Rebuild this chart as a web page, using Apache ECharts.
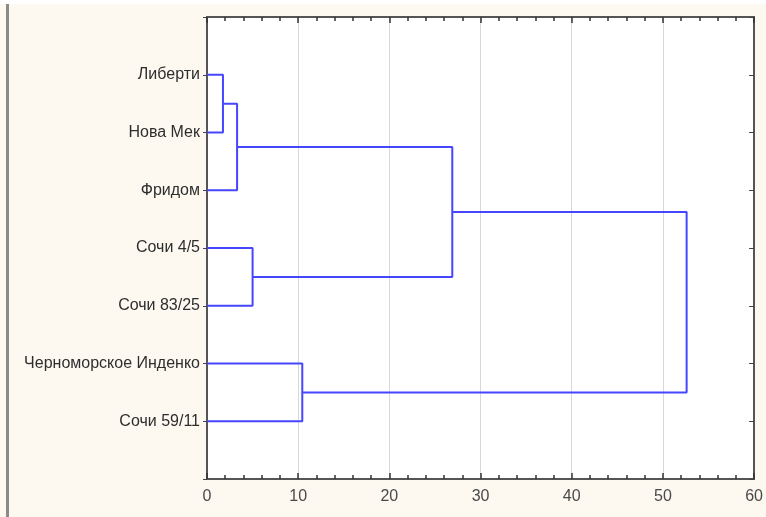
<!DOCTYPE html>
<html><head><meta charset="utf-8">
<script src="https://cdn.jsdelivr.net/npm/echarts@6/dist/echarts.min.js"></script>
<style>html,body{margin:0;padding:0;background:#fff}#c{width:766px;height:517px}</style>
</head><body><div id="c"></div>
<script>
// Leaves (top to bottom)
const leaves = ['Либерти','Нова Мек','Фридом','Сочи 4/5','Сочи 83/25','Черноморское Инденко','Сочи 59/11'];
// Merges: [childA, childB, linkage distance]; node ids >= leaves.length refer to earlier merges
const mergeA = [0, 7, 3, 5, 8, 11];
const mergeB = [1, 2, 4, 6, 9, 10];
const mergeH = [1.75, 3.3, 5.0, 10.45, 26.9, 52.6];
const xTicks = [0, 10, 20, 30, 40, 50, 60];

const nodeY = [], nodeH = [];
leaves.forEach((n, i) => { nodeY.push(i + 1); nodeH.push(0); });
const series = [];
mergeH.forEach((h, k) => {
  const a = mergeA[k], b = mergeB[k];
  series.push({
    type: 'line', symbol: 'none', silent: true, xAxisIndex: 0, yAxisIndex: 0,
    lineStyle: { color: '#4646ff', width: 2 },
    data: [[nodeH[a], nodeY[a]], [h, nodeY[a]], [h, nodeY[b]], [nodeH[b], nodeY[b]]]
  });
  nodeY.push((nodeY[a] + nodeY[b]) / 2);
  nodeH.push(h);
});

const axLine = { show: true, onZero: false, lineStyle: { color: '#555', width: 2 } };
const tickStyle = { color: '#333', width: 1.5 };
const xMin = xTicks[0], xMax = xTicks[xTicks.length - 1];
const minorAxis = pos => ({
  type: 'value', min: xMin, max: xMax, interval: 2, position: pos, offset: 0,
  axisLine: axLine,
  axisTick: { show: true, inside: true, length: 4, lineStyle: tickStyle },
  splitLine: { show: false }, axisLabel: { show: false }
});
const chart = echarts.init(document.getElementById('c'), null, { renderer: 'canvas' });
chart.setOption({
  backgroundColor: '#fdf9f1',
  animation: false,
  graphic: [
    { type: 'rect', shape: { x: 0, y: 0, width: 766, height: 4 }, style: { fill: '#ffffff' }, z: -1 },
    { type: 'rect', shape: { x: 6, y: 4, width: 3, height: 513 }, style: { fill: '#8a8a8a' } }
  ],
  grid: { left: 207, top: 17, right: 10, bottom: 38, show: true, backgroundColor: '#ffffff', borderColor: '#555', borderWidth: 1 },
  xAxis: [{
    type: 'value', min: xMin, max: xMax, interval: 10, position: 'bottom',
    axisLine: axLine,
    axisTick: { show: true, inside: true, length: 6, lineStyle: tickStyle },
    splitLine: { show: true, lineStyle: { color: '#d8d8d8', width: 1 } },
    axisLabel: { color: '#4a4a4a', fontSize: 16, fontFamily: 'Liberation Sans, Arial, sans-serif', margin: 10 }
  }, {
    type: 'value', min: xMin, max: xMax, interval: 10, position: 'top',
    axisLine: axLine,
    axisTick: { show: true, inside: true, length: 6, lineStyle: tickStyle },
    splitLine: { show: false }, axisLabel: { show: false }
  }, minorAxis('bottom'), minorAxis('top')],
  yAxis: [{
    type: 'value', min: 0, max: leaves.length + 1, interval: 1, inverse: true, position: 'left',
    axisLine: axLine, axisTick: { show: true, inside: false, length: 4, lineStyle: { color: '#444', width: 1 } }, splitLine: { show: false },
    axisLabel: {
      color: '#2e2e2e', fontSize: 16, fontFamily: 'Liberation Sans, Arial, sans-serif', margin: 7,
      formatter: v => (v >= 1 && v <= leaves.length) ? leaves[v - 1] : ''
    }
  }, {
    type: 'value', min: 0, max: leaves.length + 1, interval: 1, inverse: true, position: 'right',
    axisLine: axLine, axisTick: { show: true, inside: true, length: 5, lineStyle: { color: '#444', width: 1 } },
    splitLine: { show: false }, axisLabel: { show: false }
  }],
  series: series
});
</script></body></html>
